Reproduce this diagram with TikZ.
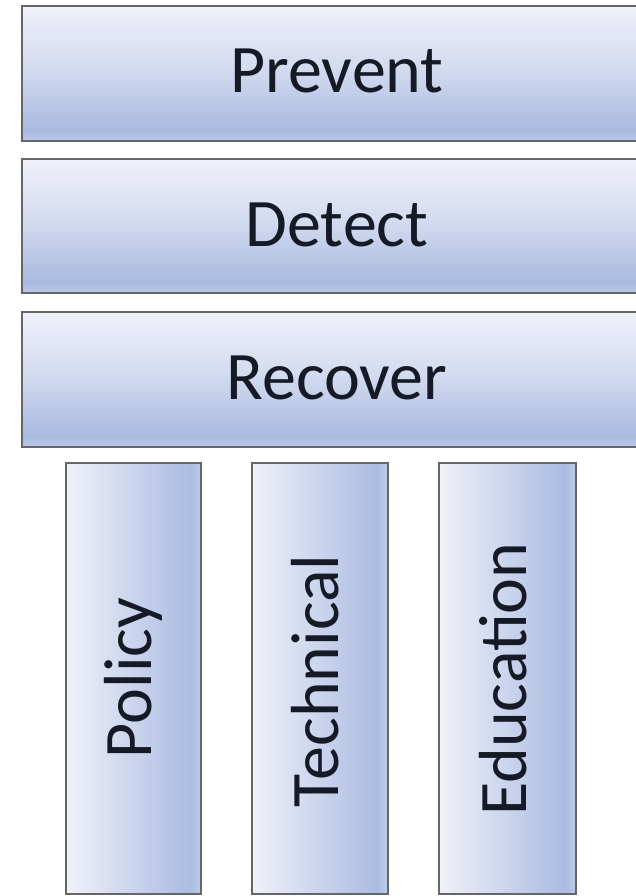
\documentclass[tikz,border=0pt]{standalone}
\usepackage{fontspec}
\setmainfont{Carlito}
\definecolor{htop}{HTML}{F0F1F9}
\definecolor{hmid}{HTML}{D3DBF0}
\definecolor{hdark}{HTML}{A9BADF}
\definecolor{hbot}{HTML}{BCC8E8}
\definecolor{vleft}{HTML}{F0F1F9}
\definecolor{vmid}{HTML}{CAD4ED}
\definecolor{vright}{HTML}{ABBCE1}
\definecolor{vedge}{HTML}{BFCBEA}
\definecolor{edgegray}{HTML}{666666}
\definecolor{txt}{HTML}{151A26}
\pgfdeclareverticalshading{hbar}{100bp}{color(0bp)=(hbot); color(25bp)=(hbot); color(29bp)=(hdark); color(52bp)=(hmid); color(75bp)=(htop); color(100bp)=(htop)}
\pgfdeclarehorizontalshading{vbar}{100bp}{color(0bp)=(vleft); color(25bp)=(vleft); color(50bp)=(vmid); color(71bp)=(vright); color(75bp)=(vedge); color(100bp)=(vedge)}
\tikzset{
  hbox/.style={draw=edgegray, line width=2.8pt, shading=hbar},
  vbox/.style={draw=edgegray, line width=2.8pt, shading=vbar},
  lbl/.style={font=\fontsize{68}{80}\selectfont, text=txt, inner sep=0pt, anchor=base},
  vlbl/.style={lbl, rotate=90}
}
\begin{document}
\begin{tikzpicture}[x=1pt,y=-1pt]
\useasboundingbox (0,0) rectangle (636,896);
\clip (0,0) rectangle (636,896);
\fill[white] (0,0) rectangle (636,896);
% horizontal bars
\path[hbox] (22,6) rectangle (660,141);
\path[hbox] (22,159) rectangle (660,293);
\path[hbox] (22,312) rectangle (660,447);
\node[lbl] (prevent) at (337,93) {Prevent};
\node[lbl] (detect) at (337,246) {Detect};
\node[lbl] (recover) at (337,399) {Recover};
% vertical columns
\path[vbox] (66,463) rectangle (201,894);
\path[vbox] (252,463) rectangle (388,894);
\path[vbox] (439,463) rectangle (576,894);
\node[vlbl] (policy) at (151,678) {Policy};
\node[vlbl] (technical) at (338,681) {Technical};
\node[vlbl] (education) at (526,679) {Education};
\end{tikzpicture}
\end{document}
